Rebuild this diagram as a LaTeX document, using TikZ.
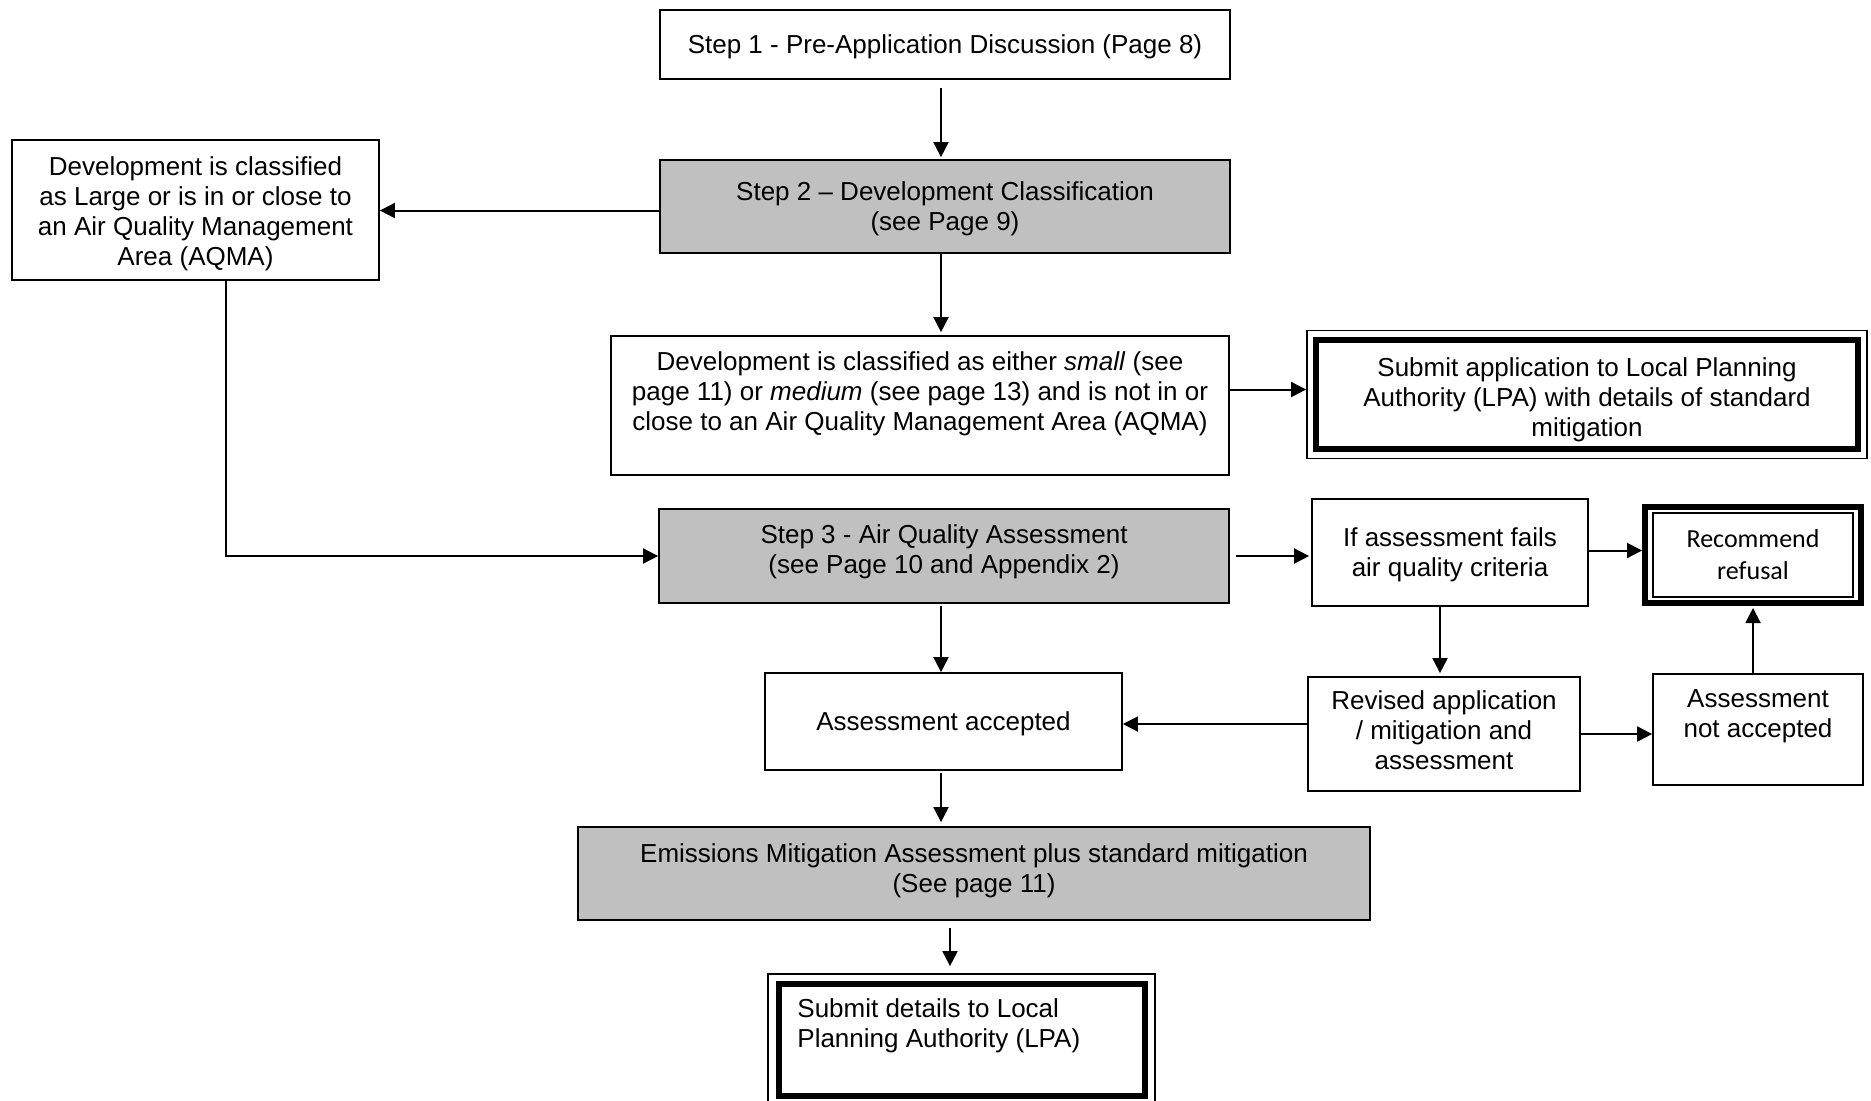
\documentclass[tikz,border=0pt]{standalone}
\usepackage{fontspec}
\setmainfont{Liberation Sans}
\newfontfamily\calibrifont{Carlito}
\usetikzlibrary{arrows.meta,calc}
\definecolor{boxgrey}{HTML}{C0C0C0}
\newcommand\fsz{\fontsize{13}{15}\selectfont}
\tikzset{
  plainbox/.style={draw, line width=0.9pt, fill=white, inner sep=0pt},
  greybox/.style={plainbox, fill=boxgrey},
  thinbox/.style={draw, line width=0.9pt, fill=white, inner sep=0pt},
  thickbox/.style={draw, line width=3pt, fill=white, inner sep=0pt},
  txt/.style={inner sep=0pt, align=center, font=\fsz},
  arr/.style={line width=1pt, -{Triangle[length=7.5pt,width=7.5pt]}}
}
\begin{document}
\begin{tikzpicture}[x=0.5pt,y=-0.5pt]
\useasboundingbox (0,0) rectangle (1871,1100);

% boxes
\node[plainbox, minimum width=285pt, minimum height=34.5pt] (s1) at (945,44.5) {};
\node[txt] (s1t) at ([yshift=-1.2pt]s1.center) {Step 1 - Pre-Application Discussion (Page 8)};

\node[plainbox, minimum width=183.5pt, minimum height=70pt] (big) at (195.5,210) {};
\node[txt] (bigt) at ([yshift=-1.8pt]big.center) {Development is classified\\as Large or is in or close to\\an Air Quality Management\\Area (AQMA)};

\node[greybox, minimum width=285pt, minimum height=46.5pt] (s2) at (945,206.5) {};
\node[txt] (s2t) at ([yshift=-1.2pt]s2.center) {Step 2 – Development Classification\\(see Page 9)};

\node[plainbox, minimum width=309pt, minimum height=69.5pt] (sm) at (920,405.5) {};
\node[txt] (smt) at (920,394) {Development is classified as either \textit{small} (see\\page 11) or \textit{medium} (see page 13) and is not in or\\close to an Air Quality Management Area (AQMA)};

\node[thinbox, minimum width=280pt, minimum height=64pt] (subappo) at (1587,394.5) {};
\node[thickbox, minimum width=271pt, minimum height=54.5pt] (subapp) at (1587,394.5) {};
\node[txt] (subappt) at ([yshift=-2.4pt]subapp.center) {Submit application to Local Planning\\Authority (LPA) with details of standard\\mitigation};

\node[greybox, minimum width=285pt, minimum height=47pt] (s3) at (944,556) {};
\node[txt] (s3t) at (944,552) {Step 3 - Air Quality Assessment\\(see Page 10 and Appendix 2)};

\node[plainbox, minimum width=138pt, minimum height=53.5pt] (fails) at (1450,552.5) {};
\node[txt] (failst) at ([yshift=-1.2pt]fails.center) {If assessment fails\\air quality criteria};

\node[thickbox, minimum width=108pt, minimum height=48pt] (refusal) at (1753,555) {};
\node[draw, line width=0.9pt, inner sep=0pt, minimum width=100pt, minimum height=42pt] (refusali) at (1753,555) {};
\node[txt, font=\calibrifont\fontsize{13}{16}\selectfont] (refusalt) at (refusal.center) {Recommend\\refusal};

\node[plainbox, minimum width=178.5pt, minimum height=48.5pt] (acc) at (943.5,721.5) {};
\node[txt] (acct) at ([yshift=-1.2pt]acc.center) {Assessment accepted};

\node[plainbox, minimum width=136pt, minimum height=57pt] (rev) at (1444,734) {};
\node[txt] (revt) at ([yshift=1.8pt]rev.center) {Revised application\\/ mitigation and\\assessment};

\node[plainbox, minimum width=105pt, minimum height=55.5pt] (na) at (1758,729.5) {};
\node[txt] (nat) at (1758,716.5) {Assessment\\not accepted};

\node[greybox, minimum width=396pt, minimum height=46.5pt] (em) at (974,873.5) {};
\node[txt] (emt) at (974,870.5) {Emissions Mitigation Assessment plus standard mitigation\\(See page 11)};

\node[thinbox, minimum width=193.5pt, minimum height=66pt] (subdeto) at (961.5,1040) {};
\node[thickbox, minimum width=183pt, minimum height=56pt] (subdet) at (961.75,1040) {};
\node[txt, align=left, anchor=west] (subdett) at (797,1025.6) {Submit details to Local\\Planning Authority (LPA)};

% connectors
\draw[arr, shorten <=4pt, shorten >=1pt] ([xshift=-2pt]s1.south) -- ([xshift=-2pt]s1.south |- s2.north);
\draw[arr] ([yshift=-2pt]s2.west) -- ([yshift=-2pt]s2.west -| big.east);
\draw[arr, shorten >=1.5pt] ([xshift=-2pt]s2.south) -- ([xshift=-2pt]s2.south |- sm.north);
\draw[arr] ([xshift=15.25pt]big.south) |- (s3.west);
\draw[arr] ([yshift=8pt]sm.east) -- ([yshift=8pt]sm.east -| subappo.west);
\draw[arr, shorten <=3pt, shorten >=1pt] (s3.east) -- (s3.east -| fails.west);
\draw[arr] ([yshift=1pt]fails.east) -- ([yshift=1pt]fails.east -| refusal.west);
\draw[arr, shorten >=1.5pt] ([xshift=-5pt]fails.south) -- ([xshift=-5pt]fails.south |- rev.north);
\draw[arr] ([yshift=5pt]rev.west) -- ([yshift=5pt]rev.west -| acc.east);
\draw[arr] (rev.east) -- (rev.east -| na.west);
\draw[arr, shorten >=1pt] ([xshift=-2.5pt]na.north) -- ([xshift=-2.5pt]na.north |- refusal.south);
\draw[arr, shorten <=1pt] ([xshift=-1.5pt]s3.south) -- ([xshift=-1.5pt]s3.south |- acc.north);
\draw[arr, shorten <=1pt, shorten >=2pt] ([xshift=-1.25pt]acc.south) -- ([xshift=-1.25pt]acc.south |- em.north);
\draw[arr, shorten <=3.5pt, shorten >=3.5pt] ([xshift=-12pt]em.south) -- ([xshift=-12pt]em.south |- subdeto.north);
\end{tikzpicture}
\end{document}
